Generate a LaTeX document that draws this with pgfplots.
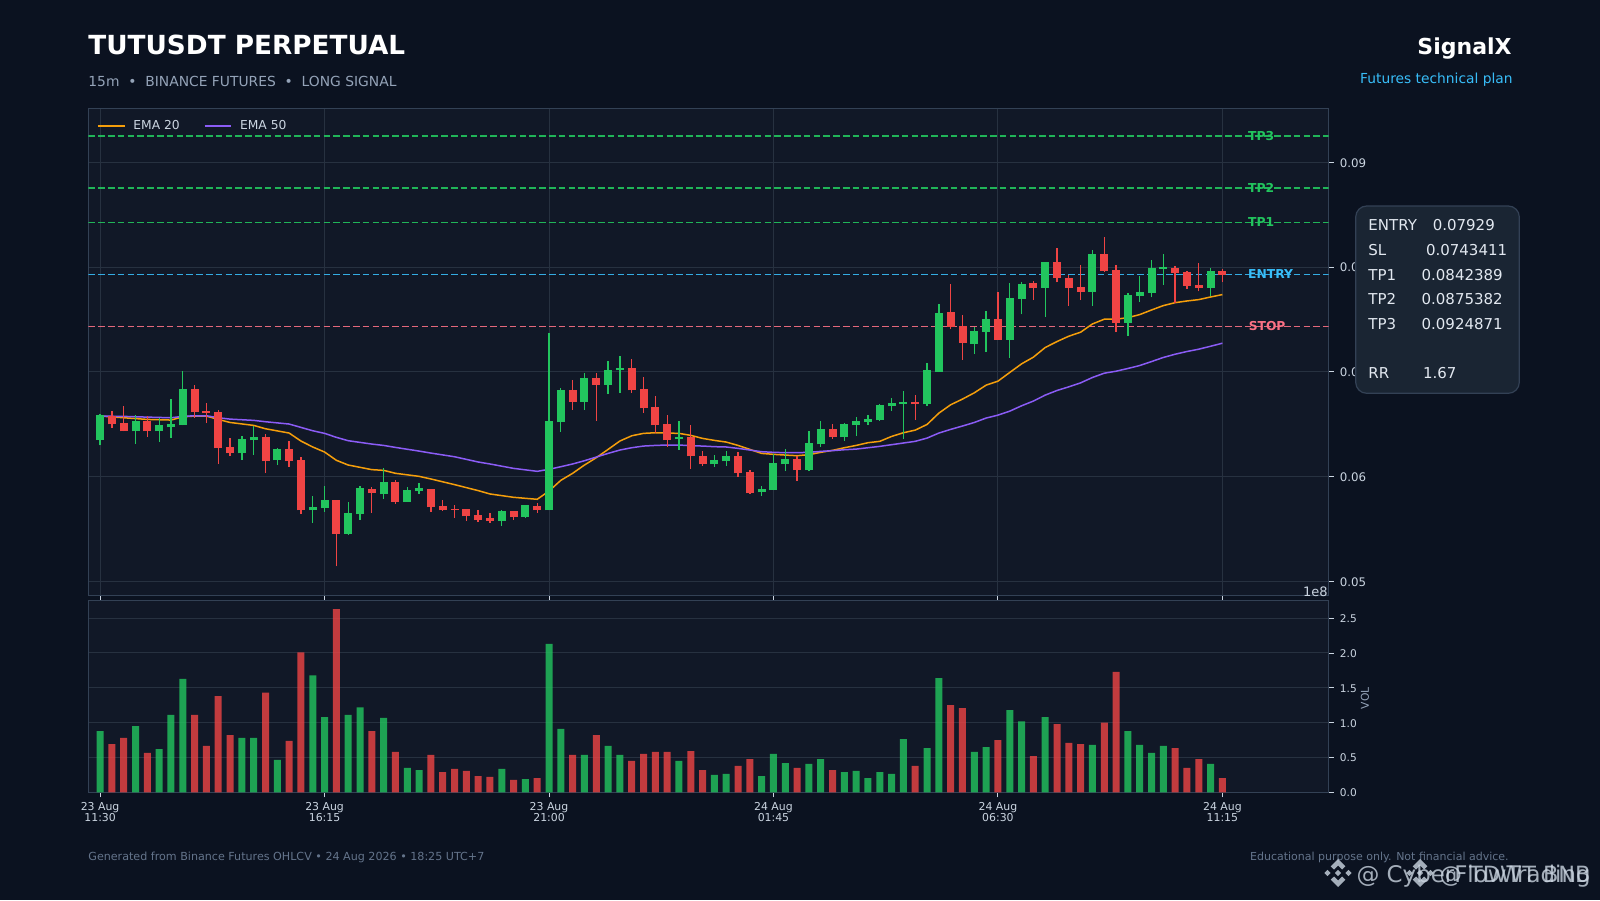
\documentclass[border=0pt]{standalone}
\usepackage{fontspec}
\setmainfont{DejaVu Sans}
\usepackage{pgfplots}
\usepackage{pgfplotstable}
\pgfplotsset{compat=1.18}
\definecolor{bgc}{HTML}{0B1220}
\definecolor{panel}{HTML}{111827}
\definecolor{spine}{HTML}{334155}
\definecolor{gridc}{HTML}{273140}
\definecolor{up}{HTML}{22C55E}
\definecolor{down}{HTML}{EF4444}
\definecolor{ema1}{HTML}{F59E0B}
\definecolor{ema2}{HTML}{8B5CF6}
\definecolor{entryc}{HTML}{38BDF8}
\definecolor{stopc}{HTML}{FB7185}
\definecolor{ticktext}{HTML}{CBD5E1}
\definecolor{subt}{HTML}{94A3B8}
\definecolor{foot}{HTML}{64748B}
\definecolor{boxf}{HTML}{1A2533}
\definecolor{boxt}{HTML}{E2E8F0}
\newcommand\fs[1]{\fontsize{#1}{#1}\selectfont}
\pgfplotstableread{
i open high low close vol
0 0.06349 0.06594 0.06298 0.06587 0.88
3 0.06432 0.06587 0.06314 0.06530 0.95
5 0.06432 0.06562 0.06333 0.06489 0.62
6 0.06470 0.06743 0.06371 0.06498 1.11
7 0.06489 0.07010 0.06489 0.06832 1.63
12 0.06222 0.06390 0.06162 0.06356 0.78
13 0.06346 0.06483 0.06210 0.06375 0.78
15 0.06156 0.06273 0.06114 0.06260 0.465
18 0.05679 0.05816 0.05562 0.05708 1.68
19 0.05698 0.05911 0.05667 0.05775 1.08
21 0.05451 0.05762 0.05444 0.05651 1.11
22 0.05641 0.05911 0.05590 0.05889 1.22
24 0.05832 0.06083 0.05790 0.05946 1.07
26 0.05756 0.05905 0.05756 0.05870 0.35
27 0.05860 0.05943 0.05838 0.05889 0.32
34 0.05575 0.05686 0.05530 0.05670 0.335
36 0.05613 0.05733 0.05606 0.05727 0.19
38 0.05679 0.07371 0.05679 0.06527 2.13
39 0.06517 0.06848 0.06429 0.06822 0.91
41 0.06717 0.06987 0.06638 0.06937 0.536
43 0.06879 0.07105 0.06790 0.07022 0.665
44 0.07013 0.07152 0.06800 0.07041 0.536
49 0.06356 0.06533 0.06257 0.06375 0.45
52 0.06117 0.06210 0.06092 0.06156 0.25
53 0.06146 0.06244 0.06102 0.06194 0.263
56 0.05851 0.05914 0.05816 0.05879 0.234
57 0.05870 0.06213 0.05870 0.06127 0.55
58 0.06117 0.06267 0.06054 0.06165 0.42
60 0.06060 0.06438 0.06054 0.06317 0.407
61 0.06308 0.06533 0.06283 0.06451 0.478
63 0.06375 0.06511 0.06340 0.06498 0.29
64 0.06489 0.06571 0.06387 0.06527 0.306
65 0.06517 0.06587 0.06495 0.06546 0.205
66 0.06536 0.06695 0.06533 0.06679 0.29
67 0.06670 0.06752 0.06625 0.06698 0.263
68 0.06689 0.06816 0.06359 0.06717 0.765
70 0.06689 0.07083 0.06673 0.07013 0.636
71 0.07003 0.07648 0.06997 0.07565 1.64
74 0.07270 0.07432 0.07168 0.07394 0.58
75 0.07384 0.07578 0.07190 0.07508 0.65
77 0.07308 0.07848 0.07133 0.07708 1.18
78 0.07698 0.07854 0.07549 0.07841 1.02
80 0.07803 0.08051 0.07524 0.08051 1.08
84 0.07765 0.08162 0.07629 0.08127 0.68
87 0.07470 0.07752 0.07343 0.07737 0.88
88 0.07727 0.07914 0.07667 0.07765 0.68
89 0.07756 0.08067 0.07711 0.07994 0.565
90 0.07984 0.08124 0.07829 0.08003 0.665
94 0.07803 0.07990 0.07721 0.07965 0.407
}\upcandles
\pgfplotstableread{
i open high low close vol
1 0.06578 0.06625 0.06467 0.06498 0.69
2 0.06508 0.06673 0.06432 0.06432 0.78
4 0.06530 0.06578 0.06381 0.06432 0.565
8 0.06832 0.06876 0.06562 0.06613 1.11
9 0.06622 0.06705 0.06511 0.06603 0.665
10 0.06613 0.06635 0.06124 0.06270 1.38
11 0.06279 0.06368 0.06197 0.06222 0.82
14 0.06375 0.06406 0.06038 0.06146 1.43
16 0.06260 0.06340 0.06095 0.06146 0.737
17 0.06156 0.06187 0.05648 0.05679 2.01
20 0.05775 0.05775 0.05143 0.05451 2.63
23 0.05879 0.05905 0.05654 0.05841 0.88
25 0.05946 0.05971 0.05740 0.05756 0.58
28 0.05879 0.05886 0.05664 0.05708 0.536
29 0.05717 0.05781 0.05673 0.05679 0.29
30 0.05689 0.05733 0.05610 0.05683 0.335
31 0.05689 0.05692 0.05578 0.05622 0.306
32 0.05632 0.05686 0.05568 0.05584 0.234
33 0.05603 0.05657 0.05562 0.05575 0.22
35 0.05670 0.05676 0.05587 0.05613 0.177
37 0.05717 0.05752 0.05657 0.05679 0.205
40 0.06822 0.06924 0.06638 0.06717 0.536
42 0.06937 0.06987 0.06533 0.06879 0.82
45 0.07041 0.07124 0.06797 0.06822 0.45
46 0.06832 0.06952 0.06610 0.06651 0.55
47 0.06660 0.06771 0.06419 0.06489 0.58
48 0.06498 0.06590 0.06286 0.06346 0.58
50 0.06375 0.06495 0.06076 0.06194 0.593
51 0.06194 0.06244 0.06105 0.06117 0.32
54 0.06194 0.06235 0.06000 0.06032 0.378
55 0.06041 0.06067 0.05838 0.05841 0.478
59 0.06165 0.06197 0.05959 0.06060 0.35
62 0.06451 0.06505 0.06359 0.06375 0.32
69 0.06717 0.06778 0.06543 0.06689 0.378
72 0.07575 0.07838 0.07406 0.07432 1.25
73 0.07441 0.07540 0.07114 0.07279 1.21
76 0.07508 0.07759 0.07305 0.07308 0.75
79 0.07851 0.07867 0.07686 0.07803 0.52
81 0.08051 0.08181 0.07854 0.07898 0.98
82 0.07898 0.07927 0.07629 0.07803 0.71
83 0.07813 0.08019 0.07683 0.07765 0.69
85 0.08127 0.08286 0.07956 0.07965 1.00
86 0.07975 0.08019 0.07378 0.07470 1.73
91 0.07994 0.08010 0.07657 0.07946 0.636
92 0.07956 0.07965 0.07790 0.07822 0.35
93 0.07832 0.08038 0.07768 0.07803 0.478
95 0.07965 0.07981 0.07857 0.07927 0.205
}\downcandles
\pgfplotsset{
  panelaxis/.style={
    scale only axis, width=620.2pt,
    axis background/.style={fill=panel},
    axis line style={color=spine,line width=.5pt},
    xmin=-1, xmax=104,
    xtick={0,19,38,57,76,95},
    major tick length=2.5pt,
    tick align=outside,
    tick style={color=ticktext,line width=.45pt},
    xtick pos=bottom, ytick pos=right,
    yticklabel pos=right,
    grid style={color=gridc,line width=.5pt},
    /pgf/number format/assume math mode=true,
    tick label style={color=ticktext},
    yticklabel style={xshift=-.4pt,yshift=-.3pt},
    scaled ticks=false,
    clip=true,
  },
  level/.style={#1,line width=.8pt,dash pattern=on 3.3pt off 1.6pt,opacity=.9,forget plot},
  wick/.style={draw=none,no markers,forget plot,
    error bars/.cd,y dir=plus,y explicit,error mark=none,
    error bar style={draw=#1,line width=.65pt,solid}},
  body/.style={draw=none,no markers,forget plot,
    error bars/.cd,y dir=plus,y explicit,error mark=none,
    error bar style={draw=#1,line width=4pt,solid}},
  shortlegend/.style={legend image code/.code={\draw[##1] (0pt,0pt) -- (13.4pt,0pt);}},
}
\begin{document}
\begin{tikzpicture}
\begin{scope}[x=.5pt,y=-.5pt]
\fill[bgc] (0,0) rectangle (1600,900);
\end{scope}
% ---- price panel
\begin{axis}[panelaxis,
  at={(44.15pt,-297.5pt)},anchor=south west,height=243.35pt,
  ymin=0.04871,ymax=0.09514,
  ytick={0.05,0.06,0.07,0.08,0.09},
  xticklabels={},
  xmajorgrids,ymajorgrids,
  yticklabel style={font=\fs{5.9},/pgf/number format/fixed,/pgf/number format/precision=2,/pgf/number format/fixed zerofill},
  legend style={at={(axis description cs:0,1)},anchor=north west,draw=none,fill=none,
    legend columns=2,font=\fs{6.15},text=ticktext,inner sep=1pt,xshift=3.2pt,yshift=-2.7pt,
    /tikz/every odd column/.append style={column sep=2pt},
    /tikz/every even column/.append style={column sep=10pt}},
  legend cell align=left,
]
\addplot[level=up] coordinates {(-1,0.0924871) (104,0.0924871)};
\addplot[level=up] coordinates {(-1,0.0875382) (104,0.0875382)};
\addplot[level=up] coordinates {(-1,0.0842389) (104,0.0842389)};
\addplot[level=entryc] coordinates {(-1,0.07929) (104,0.07929)};
\addplot[level=stopc] coordinates {(-1,0.0743411) (104,0.0743411)};
\addplot[ema1,line width=.75pt,shortlegend] coordinates {
(0,0.06578)(2,0.06562)(4,0.06546)(6,0.06540)(7,0.06571)(8,0.06578)(9,0.06578)(10,0.06546)(11,0.06517)(13,0.06489)(14,0.06457)(16,0.06416)(17,0.06340)(18,0.06283)(19,0.06235)(20,0.06156)(21,0.06111)(22,0.06089)(23,0.06067)(24,0.06060)(25,0.06032)(27,0.06003)(28,0.05978)(30,0.05924)(32,0.05867)(33,0.05835)(35,0.05803)(37,0.05784)(38,0.05863)(39,0.05965)(40,0.06032)(41,0.06111)(42,0.06181)(43,0.06260)(44,0.06340)(45,0.06390)(46,0.06413)(47,0.06419)(48,0.06416)(49,0.06413)(50,0.06394)(51,0.06365)(52,0.06346)(53,0.06330)(54,0.06298)(55,0.06260)(56,0.06222)(57,0.06213)(58,0.06206)(59,0.06200)(60,0.06210)(61,0.06232)(62,0.06251)(63,0.06276)(64,0.06298)(65,0.06324)(66,0.06337)(67,0.06384)(68,0.06419)(69,0.06444)(70,0.06498)(71,0.06606)(72,0.06686)(73,0.06740)(74,0.06800)(75,0.06873)(76,0.06911)(77,0.06994)(78,0.07076)(79,0.07140)(80,0.07232)(81,0.07289)(82,0.07340)(83,0.07378)(84,0.07457)(85,0.07502)(86,0.07502)(87,0.07517)(88,0.07546)(89,0.07590)(90,0.07632)(91,0.07660)(92,0.07676)(93,0.07689)(94,0.07714)(95,0.07737)};
\addlegendentry{EMA 20}
\addplot[ema2,line width=.75pt,shortlegend] coordinates {
(0,0.06578)(2,0.06575)(4,0.06568)(6,0.06562)(7,0.06575)(8,0.06581)(9,0.06581)(10,0.06562)(11,0.06549)(13,0.06537)(14,0.06524)(16,0.06502)(17,0.06470)(18,0.06438)(19,0.06413)(20,0.06375)(21,0.06343)(22,0.06327)(23,0.06311)(24,0.06298)(25,0.06279)(27,0.06244)(28,0.06225)(30,0.06190)(32,0.06140)(33,0.06121)(35,0.06079)(37,0.06051)(38,0.06070)(39,0.06095)(40,0.06121)(41,0.06152)(42,0.06187)(43,0.06222)(44,0.06254)(45,0.06276)(46,0.06292)(47,0.06298)(48,0.06302)(49,0.06302)(50,0.06295)(51,0.06292)(52,0.06286)(53,0.06283)(54,0.06270)(55,0.06254)(56,0.06238)(57,0.06232)(58,0.06229)(59,0.06229)(60,0.06232)(61,0.06241)(62,0.06248)(63,0.06257)(64,0.06263)(65,0.06276)(66,0.06289)(67,0.06305)(68,0.06321)(69,0.06337)(70,0.06368)(71,0.06416)(72,0.06451)(73,0.06483)(74,0.06517)(75,0.06559)(76,0.06587)(77,0.06625)(78,0.06676)(79,0.06721)(80,0.06778)(81,0.06822)(82,0.06857)(83,0.06895)(84,0.06946)(85,0.06987)(86,0.07006)(87,0.07032)(88,0.07060)(89,0.07098)(90,0.07137)(91,0.07168)(92,0.07194)(93,0.07216)(94,0.07244)(95,0.07273)};
\addlegendentry{EMA 50}
\addplot[wick=up] table[x=i,y=low,y error expr=\thisrow{high}-\thisrow{low}] {\upcandles};
\addplot[wick=down] table[x=i,y=low,y error expr=\thisrow{high}-\thisrow{low}] {\downcandles};
\addplot[body=up] table[x=i,y=open,y error expr=\thisrow{close}-\thisrow{open}] {\upcandles};
\addplot[body=down] table[x=i,y=close,y error expr=\thisrow{open}-\thisrow{close}] {\downcandles};
\node[anchor=west,inner sep=0pt,font=\bfseries\fs{6.15},text=up] at (axis cs:97.15,0.0925) {TP3};
\node[anchor=west,inner sep=0pt,font=\bfseries\fs{6.15},text=up] at (axis cs:97.15,0.08757) {TP2};
\node[anchor=west,inner sep=0pt,font=\bfseries\fs{6.15},text=up] at (axis cs:97.15,0.08427) {TP1};
\node[anchor=west,inner sep=0pt,font=\bfseries\fs{6.15},text=entryc] at (axis cs:97.15,0.07932) {ENTRY};
\node[anchor=west,inner sep=0pt,font=\bfseries\fs{6.15},text=stopc] at (axis cs:97.2,0.07437) {STOP};
\end{axis}
% ---- volume panel
\begin{axis}[panelaxis,
  at={(44.15pt,-396.15pt)},anchor=south west,height=96pt,
  ymin=0,ymax=2.756,
  ytick={0,0.5,1,1.5,2,2.5},
  ymajorgrids,
  xticklabels={{23 Aug\\11:30},{23 Aug\\16:15},{23 Aug\\21:00},{24 Aug\\01:45},{24 Aug\\06:30},{24 Aug\\11:15}},
  xticklabel style={font=\fs{5.45},align=center,yshift=1pt},
  yticklabel style={font=\fs{5.3},/pgf/number format/fixed,/pgf/number format/precision=1,/pgf/number format/fixed zerofill},
  ylabel={VOL},
  every axis y label/.style={at={(axis description cs:1.0293,0.49)},rotate=90,anchor=center,font=\fs{5.4},text=subt},
]
\addplot[ybar,bar width=3.5pt,bar shift=0pt,fill=up,fill opacity=.8,draw=none,forget plot] table[x=i,y=vol] {\upcandles};
\addplot[ybar,bar width=3.5pt,bar shift=0pt,fill=down,fill opacity=.8,draw=none,forget plot] table[x=i,y=vol] {\downcandles};
\end{axis}
% ---- texts
\begin{scope}[x=.5pt,y=-.5pt]
\node[anchor=base east,inner sep=0pt,font=\fs{6.5},text=ticktext] at (1328,596) {1e8};
\node[anchor=base west,inner sep=0pt,font=\bfseries\fs{13.15},text=white] at (88,54.3) {TUTUSDT PERPETUAL};
\node[anchor=base west,inner sep=0pt,font=\fs{6.93},text=subt] at (88,86.7) {15m\ \ •\ \ BINANCE FUTURES\ \ •\ \ LONG SIGNAL};
\node[anchor=base east,inner sep=0pt,font=\bfseries\fs{11},text=white] at (1512,54.5) {SignalX};
\node[anchor=base east,inner sep=0pt,font=\fs{6.9},text=entryc] at (1513,83.5) {Futures technical plan};
\node[anchor=base west,inner sep=0pt,font=\fs{5.56},text=foot] at (88,860) {Generated from Binance Futures OHLCV • 24 Aug 2026 • 18:25 UTC+7};
\node[anchor=base east,inner sep=0pt,font=\fs{5.5},text=foot] at (1509,860) {Educational purpose only. Not financial advice.};
% info box
\draw[draw=spine,fill=boxf,line width=.6pt,rounded corners=5.5pt] (1355.7,206) rectangle (1519.3,393.3);
\foreach \yy/\tx in {230.3/{ENTRY\ \ \ \kern.8pt 0.07929},255.3/{SL\ \ \ \ \ \ \ \ \kern.8pt 0.0743411},280.3/{TP1\ \ \ \ \ \kern.8pt 0.0842389},304.7/{TP2\ \ \ \ \ \kern.8pt 0.0875382},329.3/{TP3\ \ \ \ \ \kern.8pt 0.0924871},378.3/{RR\ \ \ \ \ \ \ \kern.25pt 1.67}}
  \node[anchor=base west,inner sep=0pt,font=\fs{7.5},text=boxt] at (1368,\yy) {\tx};
% watermark
\begin{scope}[opacity=.8]
\foreach \cx in {1338,1420} {
 \begin{scope}[shift={(\cx,873)}]
  \fill[ticktext] (0,-14)--(7.3,-6.7)--(4,-3.5)--(0,-7.5)--(-4,-3.5)--(-7.3,-6.7)--cycle;
  \fill[ticktext] (0,14)--(7.3,6.7)--(4,3.5)--(0,7.5)--(-4,3.5)--(-7.3,6.7)--cycle;
  \fill[ticktext] (0,-3.2)--(3.2,0)--(0,3.2)--(-3.2,0)--cycle;
  \fill[ticktext] (-10.5,-3.2)--(-7.3,0)--(-10.5,3.2)--(-13.7,0)--cycle;
  \fill[ticktext] (10.5,-3.2)--(13.7,0)--(10.5,3.2)--(7.3,0)--cycle;
 \end{scope}}
\node[anchor=base east,inner sep=0pt,font=\fs{11.45},text=ticktext] at (1591,882) {@ CyberFlowTrading};
\node[anchor=base east,inner sep=0pt,font=\fs{11.2},text=ticktext] at (1591,882) {@ TDWT BNB};
\end{scope}
\end{scope}
\end{tikzpicture}
\end{document}
